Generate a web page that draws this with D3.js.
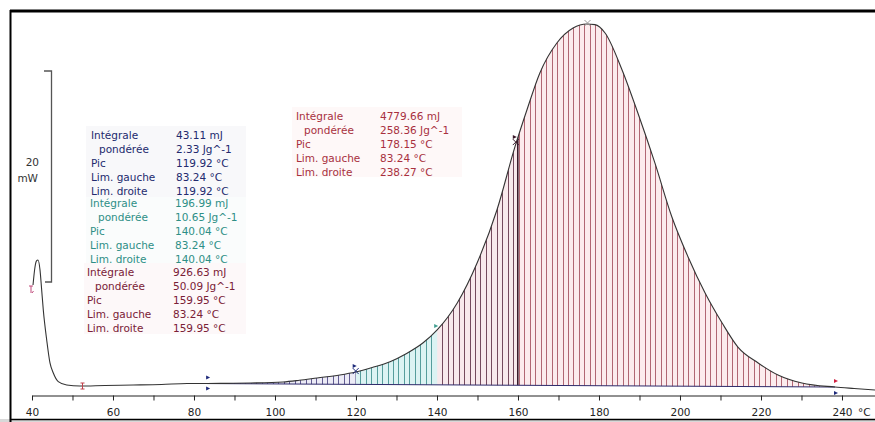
<!DOCTYPE html>
<html>
<head>
<meta charset="utf-8">
<script src="https://cdn.jsdelivr.net/npm/d3@7"></script>
<style>
  html, body { margin: 0; padding: 0; background: #fff; }
  svg { display: block; }
  text { font-family: "DejaVu Sans", Verdana, sans-serif; font-size: 10.5px; }
</style>
</head>
<body>
<svg id="chart" width="875" height="422"></svg>
<script>
// DSC thermogram: temperature (°C) vs heat flow (mW)
const temperature = [40.25, 40.74, 41.11, 41.48, 41.98, 42.35, 42.79, 43.63, 44.44, 45.26, 46.49, 48.57, 51.85,
  58, 65, 72, 78.3, 83.24, 88, 94, 102, 106, 110.4, 116, 119.92, 124, 128.4, 132.5, 136.5, 140.04,
  145, 149.9, 154.8, 159.26, 162.2, 165.4, 169.6, 173.6, 177.0, 179.0, 181.5, 185.7, 189.6, 193.8,
  198.0, 202.0, 206.2, 210.4, 214.3, 219.3, 224.2, 230.1, 238.27, 243, 248.15];
const heatFlow = [10.52, 12.23, 12.80, 12.89, 11.94, 10.24, 8.15, 5.31, 3.13, 2.18, 1.36, 1.04, 0.95,
  1.0, 1.04, 1.09, 1.18, 1.18, 1.2, 1.23, 1.33, 1.49, 1.71, 1.99, 2.27, 2.70, 3.25, 4.03, 5.02, 6.26,
  8.82, 12.61, 17.63, 23.63, 27.11, 30.62, 33.46, 34.88, 35.26, 35.2, 34.41, 30.90, 26.82, 22.09,
  16.97, 13.18, 9.76, 6.92, 4.64, 3.13, 1.99, 1.23, 0.85, 0.71, 0.57];

// Axis ticks
const majorTicks = [40, 60, 80, 100, 120, 140, 160, 180, 200, 220, 240];
const minorTicks = [50, 70, 90, 110, 130, 150, 170, 190, 210, 230];

// Integration limits (left limit shared by all partial integrals)
const limLeft = 83.24;
const limRight = 238.27;
const peakTemps = [119.92, 140.04, 159.95, 178.15];

// Partial integration results
const resultLabels = ["Intégrale", "  pondérée", "Pic", "Lim. gauche", "Lim. droite"];
const results1 = ["43.11 mJ", "2.33 Jg^-1", "119.92 °C", "83.24 °C", "119.92 °C"];
const results2 = ["196.99 mJ", "10.65 Jg^-1", "140.04 °C", "83.24 °C", "140.04 °C"];
const results3 = ["926.63 mJ", "50.09 Jg^-1", "159.95 °C", "83.24 °C", "159.95 °C"];
const results4 = ["4779.66 mJ", "258.36 Jg^-1", "178.15 °C", "83.24 °C", "238.27 °C"];

const scaleBarValue = 20;
const scaleBarUnit = "mW";

const data = temperature.map((t, i) => ({ t, v: heatFlow[i] }));

const svg = d3.select("#chart");
const x = d3.scaleLinear().domain([40, 248.15]).range([32, 875]);
const y = d3.scaleLinear().domain([0, 20]).range([396, 185]);

// linear lookup of heat flow at a given temperature
function flowAt(t) {
  const i = d3.bisector(d => d.t).right(data, t);
  const a = data[Math.max(0, i - 1)], b = data[Math.min(data.length - 1, i)];
  if (a === b) return a.v;
  return a.v + (b.v - a.v) * (t - a.t) / (b.t - a.t);
}
const baseL = flowAt(limLeft), baseR = flowAt(limRight);
const baseAt = t => baseL + (baseR - baseL) * (t - limLeft) / (limRight - limLeft);

// frame
svg.append("rect").attr("x", 0).attr("y", 419).attr("width", 875).attr("height", 3).attr("fill", "#d8d8d8");
svg.append("line").attr("x1", 10).attr("x2", 875).attr("y1", 11).attr("y2", 11).attr("stroke", "#000").attr("stroke-width", 3);
svg.append("line").attr("x1", 10.5).attr("x2", 10.5).attr("y1", 10).attr("y2", 422).attr("stroke", "#000").attr("stroke-width", 2);
svg.append("line").attr("x1", 10).attr("x2", 875).attr("y1", 419.5).attr("y2", 419.5).attr("stroke", "#000").attr("stroke-width", 1.5);

const defs = svg.append("defs");

// area between the integration baseline and the curve
const inside = data.filter(d => d.t > limLeft && d.t < limRight);
const areaPts = [{ t: limLeft, v: baseL }, ...inside, { t: limRight, v: baseR }];
const area = d3.area()
  .x(d => x(d.t))
  .y0(d => y(baseAt(d.t)))
  .y1(d => y(d.v))
  .curve(d3.curveMonotoneX);
defs.append("clipPath").attr("id", "under").append("path").attr("d", area(areaPts));

const regions = [
  { from: limLeft, to: peakTemps[0], fill: "#ecebf6", stroke: "#4b4380" },
  { from: peakTemps[0], to: peakTemps[1], fill: "#dcf3f3", stroke: "#3f8e8c" },
  { from: peakTemps[1], to: peakTemps[2], fill: "#f8e9ec", stroke: "#5e2e45" },
  { from: peakTemps[2], to: limRight, fill: "#fcecee", stroke: "#a4505f" }
];

const hatchStep = 1.35;
const hatchG = svg.append("g").attr("clip-path", "url(#under)");
regions.forEach((r, i) => {
  defs.append("clipPath").attr("id", "reg" + i).append("rect")
    .attr("x", x(r.from)).attr("y", 0)
    .attr("width", x(r.to) - x(r.from)).attr("height", 422);
  const g = hatchG.append("g").attr("clip-path", `url(#reg${i})`);
  g.append("rect").attr("x", x(r.from)).attr("y", 0)
    .attr("width", x(r.to) - x(r.from)).attr("height", 400).attr("fill", r.fill);
  const ts = d3.range(limLeft, limRight + 0.01, hatchStep).filter(t => t >= r.from - 0.01 && t <= r.to + 0.01);
  g.selectAll("line").data(ts).join("line")
    .attr("x1", t => Math.round(x(t)) + 0.5).attr("x2", t => Math.round(x(t)) + 0.5)
    .attr("y1", 0).attr("y2", 400)
    .attr("stroke", r.stroke).attr("stroke-width", 1).attr("opacity", 0.85);
});
// boundary line at the third peak limit
hatchG.append("line")
  .attr("x1", x(peakTemps[2])).attr("x2", x(peakTemps[2]))
  .attr("y1", 0).attr("y2", 400).attr("stroke", "#3a1a2a").attr("stroke-width", 1.6);

// integration baseline
svg.append("line")
  .attr("x1", x(limLeft)).attr("y1", y(baseL))
  .attr("x2", x(limRight)).attr("y2", y(baseR))
  .attr("stroke", "#2e2a6a").attr("stroke-width", 1);

// thermogram curve
const line = d3.line().x(d => x(d.t)).y(d => y(d.v)).curve(d3.curveMonotoneX);
svg.append("path").attr("d", line(data))
  .attr("fill", "none").attr("stroke", "#333").attr("stroke-width", 1.1);

// x axis
const axisY = 395.5;
svg.append("g").attr("transform", `translate(0,${axisY})`)
  .call(d3.axisBottom(x).tickValues(minorTicks).tickSize(5).tickFormat("").tickSizeOuter(0))
  .call(g => g.select(".domain").remove())
  .selectAll("line").attr("stroke", "#222");
const ax = svg.append("g").attr("transform", `translate(0,${axisY})`)
  .call(d3.axisBottom(x).tickValues(majorTicks).tickSize(5).tickPadding(8).tickFormat(d3.format("d")).tickSizeOuter(0));
ax.select(".domain").attr("stroke", "#222");
ax.selectAll("line").attr("stroke", "#222");
ax.selectAll("text").attr("fill", "#222").style("font-family", '"DejaVu Sans", sans-serif').style("font-size", "10.5px");
svg.append("text").attr("x", 858).attr("y", 416).attr("fill", "#222").text("°C");

// vertical scale bar
const barX = 51.5, barBottom = 282;
const barTop = barBottom - (y(0) - y(scaleBarValue));
svg.append("path")
  .attr("d", `M44,${barTop}H${barX}V${barBottom}H45`)
  .attr("fill", "none").attr("stroke", "#555").attr("stroke-width", 1.3);
svg.append("text").attr("x", 39).attr("y", 166).attr("text-anchor", "end").attr("fill", "#333").text(scaleBarValue);
svg.append("text").attr("x", 38).attr("y", 182).attr("text-anchor", "end").attr("fill", "#333").text(scaleBarUnit);

// markers
function flag(cx, cy, color, dir) {
  const d = dir === "down"
    ? `M${cx - 2},${cy} L${cx + 2},${cy + 2} L${cx - 2},${cy + 4} Z`
    : `M${cx - 2},${cy} L${cx + 2},${cy - 2} L${cx - 2},${cy - 4} Z`;
  svg.append("path").attr("d", d).attr("fill", color);
}
function cross(cx, cy, color, s) {
  svg.append("path").attr("d", `M${cx - s},${cy - s}L${cx + s},${cy + s}M${cx - s},${cy + s}L${cx + s},${cy - s}`)
    .attr("stroke", color).attr("stroke-width", 1).attr("fill", "none");
}
const fy = t => y(flowAt(t));
flag(x(limLeft) + 1, y(baseL) - 4, "#1e2a7a", "up");
flag(x(limLeft) + 1, y(baseL) + 3, "#1e2a7a", "down");
cross(x(peakTemps[0]), fy(peakTemps[0]) - 1, "#1e2a7a", 3);
flag(x(peakTemps[0]) - 1, fy(peakTemps[0]) - 4, "#1e2a7a", "up");
flag(x(peakTemps[1]) - 1, fy(peakTemps[1]) - 2, "#3f9e90", "up");
cross(x(peakTemps[2]) - 2, fy(peakTemps[2]) + 4, "#3a1a2a", 3);
flag(x(peakTemps[2]) - 3, fy(peakTemps[2]) + 1, "#3a1a2a", "up");
cross(x(peakTemps[3]) - 4, y(35.26) - 1, "#999", 3);
flag(x(limRight) + 1, y(baseR) - 4, "#d02040", "up");
flag(x(limRight) + 1, y(baseR) + 4, "#1e2a7a", "down");
// curve start / end limits
svg.append("path").attr("d", "M31,286V293M29,286H33M32,293l1.5,-2")
  .attr("stroke", "#c04a7a").attr("fill", "none").attr("stroke-width", 1);
svg.append("path").attr("d", "M82.5,383V389M80.5,383H84.5M80.5,389H84.5")
  .attr("stroke", "#c0404a").attr("fill", "none").attr("stroke-width", 1);

// result blocks
function block(rows, labelX, valueX, topY, color, bg, bgBox) {
  svg.append("rect").attr("x", bgBox[0]).attr("y", bgBox[1]).attr("width", bgBox[2]).attr("height", bgBox[3])
    .attr("fill", bg);
  const g = svg.append("g").attr("fill", color);
  resultLabels.forEach((lab, i) => {
    g.append("text").attr("x", labelX + (i === 1 ? 8 : 0)).attr("y", topY + i * 14)
      .text(lab.trim());
    g.append("text").attr("x", valueX).attr("y", topY + i * 14).text(rows[i]);
  });
}
block(results1, 91, 176, 139, "#232a6e", "#f8f8fa", [86, 126, 160, 71]);
block(results2, 90, 175, 207, "#2e8f86", "#fafcfc", [86, 197, 160, 66]);
block(results3, 87, 173, 276, "#7a2036", "#fdf8f9", [84, 263, 162, 71]);
block(results4, 296, 380, 120, "#a8303e", "#fef8f8", [292, 107, 170, 70]);
</script>
</body>
</html>
